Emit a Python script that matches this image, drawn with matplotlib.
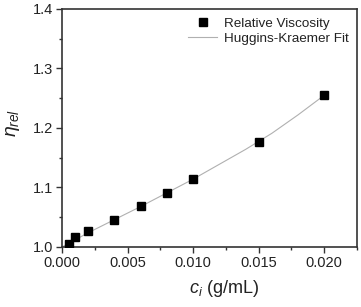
import matplotlib
matplotlib.use("Agg")
import matplotlib.pyplot as plt
from matplotlib.ticker import MultipleLocator

plt.rcParams['font.family'] = ['Liberation Sans', 'DejaVu Sans']
plt.rcParams['mathtext.fontset'] = 'custom'
plt.rcParams['mathtext.it'] = 'Liberation Sans:italic'
plt.rcParams['mathtext.rm'] = 'Liberation Sans'

conc = [0.0005, 0.001, 0.002, 0.004, 0.006, 0.008, 0.010, 0.015, 0.020]
eta_rel = [1.005, 1.017, 1.027, 1.045, 1.069, 1.090, 1.115, 1.177, 1.256]

fit_x = [0.0, 0.002, 0.004, 0.006, 0.008, 0.010, 0.012, 0.014, 0.016, 0.018, 0.020]
fit_y = [1.000, 1.024, 1.046, 1.068, 1.091, 1.114, 1.139, 1.164, 1.191, 1.222, 1.255]

fig = plt.figure(figsize=(3.61, 3.07), dpi=100)
ax = fig.add_axes([62/361, 1-247/307, (357-62)/361, (247-9)/307])

ax.plot(fit_x, fit_y, color='#b0b0b0', lw=0.8, label='Huggins-Kraemer Fit', zorder=2)
ax.plot(conc, eta_rel, 's', color='black', ms=6, ls='none', label='Relative Viscosity', zorder=3)

ax.set_xlim(0, 0.0225)
ax.set_ylim(1.0, 1.4)
ax.xaxis.set_major_locator(MultipleLocator(0.005))
ax.xaxis.set_minor_locator(MultipleLocator(0.0025))
ax.yaxis.set_major_locator(MultipleLocator(0.1))
ax.yaxis.set_minor_locator(MultipleLocator(0.05))
ax.xaxis.set_major_formatter(plt.FormatStrFormatter('%.3f'))
ax.yaxis.set_major_formatter(plt.FormatStrFormatter('%.1f'))
ax.tick_params(which='major', direction='out', length=4, width=1, labelsize=10.5,
               color='#333333', labelcolor='#222222', pad=2.5)
ax.tick_params(which='minor', direction='out', length=2, width=1, color='#333333')
ax.tick_params(top=False, right=False, which='both')
for s in ax.spines.values():
    s.set_linewidth(1.2)
    s.set_color('#333333')

ax.set_xlabel(r'$c_i$ (g/mL)', fontsize=13, color='#222222')
ax.xaxis.set_label_coords(0.55, -0.13)
ax.set_ylabel(r'$\eta_{rel}$', fontsize=14, color='#222222')
ax.yaxis.set_label_coords(-0.135, 0.52)

handles, labels = ax.get_legend_handles_labels()
leg = ax.legend(handles[::-1], labels[::-1], loc='upper right', frameon=False,
                fontsize=9.7, handlelength=2.2, handletextpad=0.5, labelspacing=0.2,
                borderaxespad=0.2, bbox_to_anchor=(1.0, 1.0))
for t in leg.get_texts():
    t.set_color('#222222')

fig.savefig('out.png', dpi=100)
